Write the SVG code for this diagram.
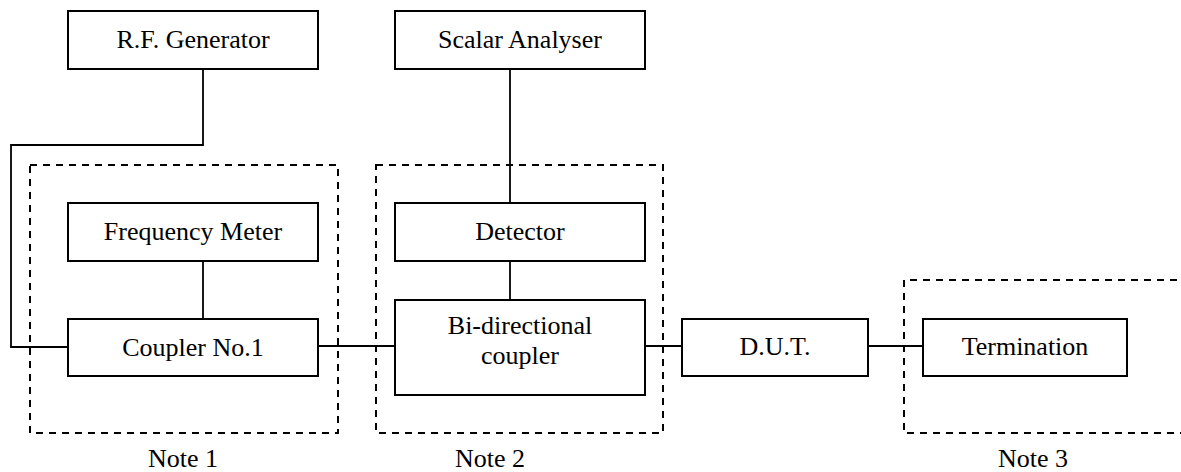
<svg xmlns="http://www.w3.org/2000/svg" width="1181" height="472" viewBox="0 0 1181 472">
<style>
.box{fill:#fff;stroke:#000;stroke-width:2}
.dash{fill:none;stroke:#000;stroke-width:2;stroke-dasharray:7 6}
.wire{fill:none;stroke:#000;stroke-width:1.8}
.t{font-family:'Liberation Serif','Times New Roman',serif;font-size:26px;fill:#000;text-anchor:middle}
</style>
<rect width="1181" height="472" fill="#fff"/>
<g id="groups">
<rect class="dash" x="30" y="165" width="308" height="268"/>
<rect class="dash" x="376" y="165" width="287" height="268"/>
<path class="dash" d="M1190,280 H904 V433 H1190"/>
</g>
<g id="connectors">
<path class="wire" d="M203,69 V145 H11 V347 H68"/>
<path class="wire" d="M203,261 V319"/>
<path class="wire" d="M318,346 H395"/>
<path class="wire" d="M510,69 V203"/>
<path class="wire" d="M510,261 V300"/>
<path class="wire" d="M645,346 H682"/>
<path class="wire" d="M868,346 H923"/>
</g>
<g id="rf-generator"><rect class="box" x="68" y="11" width="250" height="58"/><text class="t" x="193" y="48">R.F. Generator</text></g>
<g id="scalar-analyser"><rect class="box" x="395" y="11" width="250" height="58"/><text class="t" x="520" y="48">Scalar Analyser</text></g>
<g id="frequency-meter"><rect class="box" x="68" y="203" width="250" height="58"/><text class="t" x="193" y="240">Frequency Meter</text></g>
<g id="detector"><rect class="box" x="395" y="203" width="250" height="58"/><text class="t" x="520" y="240">Detector</text></g>
<g id="coupler1"><rect class="box" x="68" y="319" width="250" height="57"/><text class="t" x="193" y="356">Coupler No.1</text></g>
<g id="bidirectional"><rect class="box" x="395" y="300" width="250" height="95"/><text class="t" x="520" y="334">Bi-directional</text><text class="t" x="520" y="364">coupler</text></g>
<g id="dut"><rect class="box" x="682" y="319" width="186" height="57"/><text class="t" x="775" y="355">D.U.T.</text></g>
<g id="termination"><rect class="box" x="923" y="319" width="204" height="57"/><text class="t" x="1025" y="355">Termination</text></g>
<g id="notes">
<text class="t" x="183" y="467">Note 1</text>
<text class="t" x="490" y="467">Note 2</text>
<text class="t" x="1033" y="467">Note 3</text>
</g>
</svg>
